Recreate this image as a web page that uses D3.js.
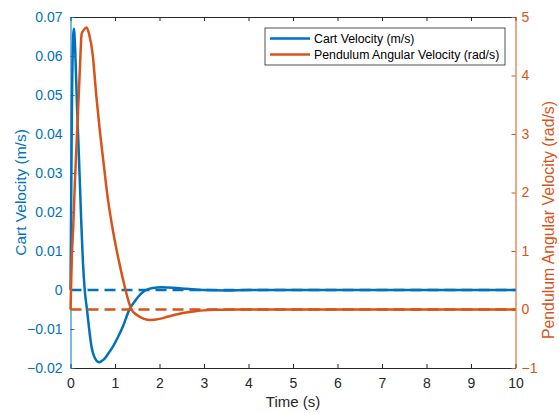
<!DOCTYPE html>
<html>
<head>
<meta charset="utf-8">
<script src="https://cdn.jsdelivr.net/npm/d3@7"></script>
<style>
  body { margin: 0; background: #fff; }
  text { font-family: "Liberation Sans", Arial, sans-serif; }
</style>
</head>
<body>
<svg id="graph" width="559" height="413"></svg>
<script>
// values
var timeCart = [0, 0.03, 0.06, 0.075, 0.1, 0.13, 0.15, 0.19, 0.24, 0.28, 0.32, 0.37, 0.42, 0.47, 0.55, 0.64, 0.75, 0.85, 0.96, 1.07, 1.18, 1.32, 1.45, 1.58, 1.7, 1.85, 2.05, 2.3, 2.6, 2.8, 3.0, 3.5, 4, 5, 6, 7, 8, 9, 10];
var cartVelocity = [0, 0.045, 0.065, 0.067, 0.063, 0.053, 0.046, 0.034, 0.018, 0.007, 0.0, -0.005, -0.0101, -0.0144, -0.0175, -0.0185, -0.0178, -0.0163, -0.0144, -0.012, -0.0093, -0.0051, -0.0028, -0.001, 0.0, 0.0005, 0.0007, 0.0006, 0.0003, 0.0001, 0.0, -0.0001, 0, 0, 0, 0, 0, 0, 0];

var timePend = [0, 0.03, 0.06, 0.1, 0.17, 0.21, 0.25, 0.3, 0.36, 0.42, 0.5, 0.58, 0.66, 0.75, 0.84, 0.96, 1.11, 1.2, 1.29, 1.37, 1.5, 1.65, 1.8, 2.0, 2.2, 2.4, 2.6, 2.8, 3.0, 3.3, 3.6, 4, 5, 6, 7, 8, 9, 10];
var pendVelocity = [0, 0.9, 1.4, 2.2, 3.4, 4.1, 4.71, 4.78, 4.82, 4.7, 4.35, 3.65, 3.05, 2.46, 1.89, 1.32, 0.75, 0.45, 0.18, 0.0, -0.1, -0.16, -0.18, -0.16, -0.12, -0.08, -0.05, -0.03, -0.015, -0.005, 0, 0, 0, 0, 0, 0, 0, 0];

// dashed zero reference lines
var refTime = [0, 10];
var refCart = [0, 0];
var refPend = [0, 0];

var xTicks = [0, 1, 2, 3, 4, 5, 6, 7, 8, 9, 10];
var leftTicks = [-0.02, -0.01, 0, 0.01, 0.02, 0.03, 0.04, 0.05, 0.06, 0.07];
var rightTicks = [-1, 0, 1, 2, 3, 4, 5];
var legendLabels = ['Cart Velocity (m/s)', 'Pendulum Angular Velocity (rad/s)'];

graphFunctions = {
  WIDTH: 559,
  HEIGHT: 413,
  MARGINS: { top: 17, right: 43.5, bottom: 45, left: 70.5 },
  BLUE: '#0072BD',
  ORANGE: '#D95319',
  GRAY: '#262626',

  createGraph: function () {
    var vis = d3.select('#graph');
    var M = graphFunctions.MARGINS;
    var x0 = M.left, x1 = graphFunctions.WIDTH - M.right;
    var y0 = graphFunctions.HEIGHT - M.bottom, y1 = M.top;

    var xRange = d3.scaleLinear().domain([0, 10]).range([x0, x1]);
    var yLeft = d3.scaleLinear().domain([-0.02, 0.07]).range([y0, y1]);
    var yRight = d3.scaleLinear().domain([-1, 5]).range([y0, y1]);

    // top box line
    var topAxis = d3.axisTop(xRange).tickValues(xTicks).tickFormat('')
      .tickSizeInner(-4).tickSizeOuter(0);
    var gTop = vis.append('g').attr('transform', 'translate(0,' + y1 + ')').call(topAxis);
    graphFunctions.styleAxis(gTop, graphFunctions.GRAY);

    var xAxis = d3.axisBottom(xRange).tickValues(xTicks).tickFormat(d3.format('d'))
      .tickSizeInner(-4).tickSizeOuter(0).tickPadding(10);
    var gx = vis.append('g').attr('transform', 'translate(0,' + y0 + ')').call(xAxis);
    graphFunctions.styleAxis(gx, graphFunctions.GRAY);

    var yAxisL = d3.axisLeft(yLeft).tickValues(leftTicks)
      .tickFormat(function (d) { return Math.abs(d) < 1e-9 ? '0' : d3.format('.2f')(d); })
      .tickSizeInner(-4).tickSizeOuter(0).tickPadding(8);
    var gl = vis.append('g').attr('transform', 'translate(' + x0 + ',0)').call(yAxisL);
    graphFunctions.styleAxis(gl, graphFunctions.BLUE);

    var yAxisR = d3.axisRight(yRight).tickValues(rightTicks).tickFormat(d3.format('d'))
      .tickSizeInner(-4).tickSizeOuter(0).tickPadding(6);
    var gr = vis.append('g').attr('transform', 'translate(' + x1 + ',0)').call(yAxisR);
    graphFunctions.styleAxis(gr, graphFunctions.ORANGE);

    // axis titles
    vis.append('text')
      .attr('x', (x0 + x1) / 2).attr('y', 407)
      .attr('text-anchor', 'middle').attr('font-size', 15)
      .attr('fill', graphFunctions.GRAY).text('Time (s)');

    vis.append('text')
      .attr('transform', 'translate(26,' + ((y0 + y1) / 2) + ') rotate(-90)')
      .attr('text-anchor', 'middle').attr('font-size', 15.5)
      .attr('fill', graphFunctions.BLUE).text('Cart Velocity (m/s)');

    vis.append('text')
      .attr('transform', 'translate(554,' + 220 + ') rotate(-90)')
      .attr('text-anchor', 'middle').attr('font-size', 15.8)
      .attr('fill', graphFunctions.ORANGE).text('Pendulum Angular Velocity (rad/s)');

    // lines
    var cartLine = d3.line()
      .x(function (d, i) { return xRange(timeCart[i]); })
      .y(function (d) { return yLeft(d); })
      .curve(d3.curveMonotoneX);
    var pendLine = d3.line()
      .x(function (d, i) { return xRange(timePend[i]); })
      .y(function (d) { return yRight(d); })
      .curve(d3.curveMonotoneX);
    var refLineL = d3.line()
      .x(function (d, i) { return xRange(refTime[i]); })
      .y(function (d) { return yLeft(d); });
    var refLineR = d3.line()
      .x(function (d, i) { return xRange(refTime[i]); })
      .y(function (d) { return yRight(d); });

    vis.append('path').attr('d', cartLine(cartVelocity))
      .attr('stroke', graphFunctions.BLUE).attr('stroke-width', 2.5)
      .attr('fill', 'none').attr('stroke-linejoin', 'round');
    vis.append('path').attr('d', refLineL(refCart))
      .attr('stroke', graphFunctions.BLUE).attr('stroke-width', 2.5)
      .attr('stroke-dasharray', '11,6').attr('fill', 'none');
    vis.append('path').attr('d', pendLine(pendVelocity))
      .attr('stroke', graphFunctions.ORANGE).attr('stroke-width', 2.5)
      .attr('fill', 'none').attr('stroke-linejoin', 'round');
    vis.append('path').attr('d', refLineR(refPend))
      .attr('stroke', graphFunctions.ORANGE).attr('stroke-width', 2.5)
      .attr('stroke-dasharray', '11,6').attr('fill', 'none');

    graphFunctions.drawLegend(vis);
  },

  styleAxis: function (g, color) {
    g.select('.domain').attr('stroke', color).attr('stroke-width', 1);
    g.selectAll('.tick line').attr('stroke', color).attr('stroke-width', 1);
    g.selectAll('.tick text').attr('fill', color)
      .attr('font-size', 14).attr('font-family', '"Liberation Sans", Arial, sans-serif');
  },

  drawLegend: function (vis) {
    var colors = [graphFunctions.BLUE, graphFunctions.ORANGE];
    var lg = vis.append('g').attr('transform', 'translate(265,28)');
    lg.append('rect').attr('width', 240).attr('height', 37)
      .attr('fill', '#fff').attr('stroke', graphFunctions.GRAY).attr('stroke-width', 0.8);
    legendLabels.forEach(function (label, i) {
      var y = 10.5 + i * 16;
      lg.append('line').attr('x1', 5).attr('x2', 45).attr('y1', y).attr('y2', y)
        .attr('stroke', colors[i]).attr('stroke-width', 2.5);
      lg.append('text').attr('x', 49).attr('y', y + 4.5)
        .attr('font-size', 12.3).attr('fill', '#000').text(label);
    });
  }
};

graphFunctions.createGraph();
</script>
</body>
</html>
